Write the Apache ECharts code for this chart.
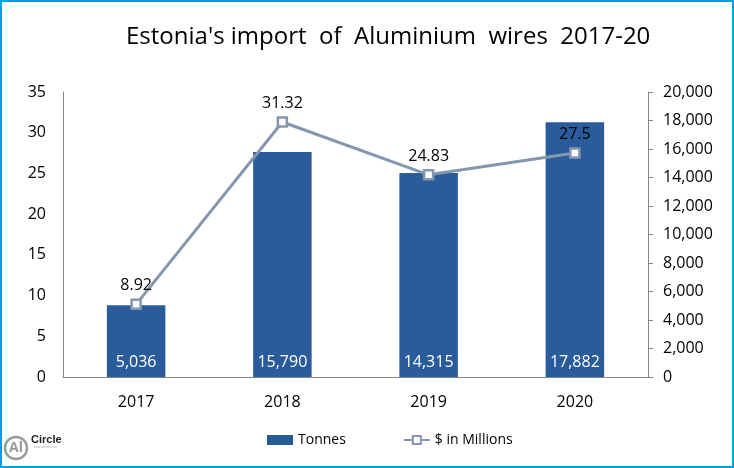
<!DOCTYPE html>
<html><head><meta charset="utf-8">
<script src="https://cdn.jsdelivr.net/npm/echarts@6/dist/echarts.min.js"></script>
<style>html,body{margin:0;padding:0;background:#fff}#c{width:734px;height:468px;box-sizing:border-box;border:2px solid #00A3E0}</style>
</head><body><div id="c"></div>
<script>
const categories = ['2017', '2018', '2019', '2020'];
const tonnes = [5036, 15790, 14315, 17882];
const millions = [8.92, 31.32, 24.83, 27.5];
const leftTicks = [0, 35, 5];
const rightTicks = [0, 20000, 2000];

const chart = echarts.init(document.getElementById('c'));
const font = '"Open Sans", "Noto Sans", sans-serif';
chart.setOption({
  animation: false,
  textStyle: { fontFamily: font },
  title: {
    text: "Estonia's import  of  Aluminium  wires  2017-20",
    left: 119, top: 18,
    textStyle: { fontSize: 24, fontWeight: 'normal', color: '#000', fontFamily: font }
  },
  legend: {
    bottom: 14, left: 260, itemGap: 57, itemWidth: 26, itemHeight: 10,
    textStyle: { fontSize: 14, color: '#000' },
    data: [{ name: 'Tonnes', icon: 'rect' }, { name: '$ in Millions' }]
  },
  grid: { left: 61, right: 84, top: 90, bottom: 89 },
  xAxis: {
    type: 'category', data: categories,
    axisLine: { lineStyle: { color: '#888', width: 1 } },
    axisTick: { show: false },
    axisLabel: { color: '#000', fontSize: 16, margin: 17 }
  },
  yAxis: [
    { type: 'value', min: leftTicks[0], max: leftTicks[1], interval: leftTicks[2], position: 'left',
      axisLine: { show: true, lineStyle: { color: '#888' } }, axisTick: { show: false },
      splitLine: { show: false },
      axisLabel: { color: '#000', fontSize: 16, margin: 17 } },
    { type: 'value', min: rightTicks[0], max: rightTicks[1], interval: rightTicks[2], position: 'right',
      axisLine: { show: true, lineStyle: { color: '#888' } },
      axisTick: { show: true, length: 5, lineStyle: { color: '#888' } },
      splitLine: { show: false },
      axisLabel: { color: '#000', fontSize: 16, margin: 15,
        formatter: v => v.toLocaleString('en-US') } }
  ],
  series: [
    { name: 'Tonnes', type: 'bar', yAxisIndex: 1, data: tonnes, barWidth: '40%',
      itemStyle: { color: '#2A5C9B' },
      label: { show: true, position: 'insideBottom', distance: 7, color: '#fff', fontSize: 16,
        formatter: p => p.value.toLocaleString('en-US') } },
    { name: '$ in Millions', type: 'line', yAxisIndex: 0, data: millions,
      symbol: 'rect', symbolSize: 9,
      lineStyle: { color: '#8496B0', width: 3 },
      itemStyle: { color: '#fff', borderColor: '#8496B0', borderWidth: 2.5 },
      label: { show: true, position: 'top', distance: 5, color: '#000', fontSize: 16 } }
  ],
  graphic: [
    { type: 'circle', shape: { cx: 14, cy: 446, r: 11 }, style: { fill: 'none', stroke: '#9a9a9a', lineWidth: 2.5 } },
    { type: 'text', x: 14, y: 446, style: { text: 'Al', fill: '#9a9a9a', align: 'center', verticalAlign: 'middle', font: 'bold 14px "Open Sans", sans-serif' } },
    { type: 'text', x: 29, y: 438, style: { text: 'Circle', fill: '#222', verticalAlign: 'middle', font: 'bold 11px "Liberation Sans Narrow", sans-serif' } },
    { type: 'text', x: 32, y: 445, style: { text: 'www.alcircle.com', fill: '#aaa', verticalAlign: 'middle', font: '3px sans-serif' } }
  ]
});
</script></body></html>
